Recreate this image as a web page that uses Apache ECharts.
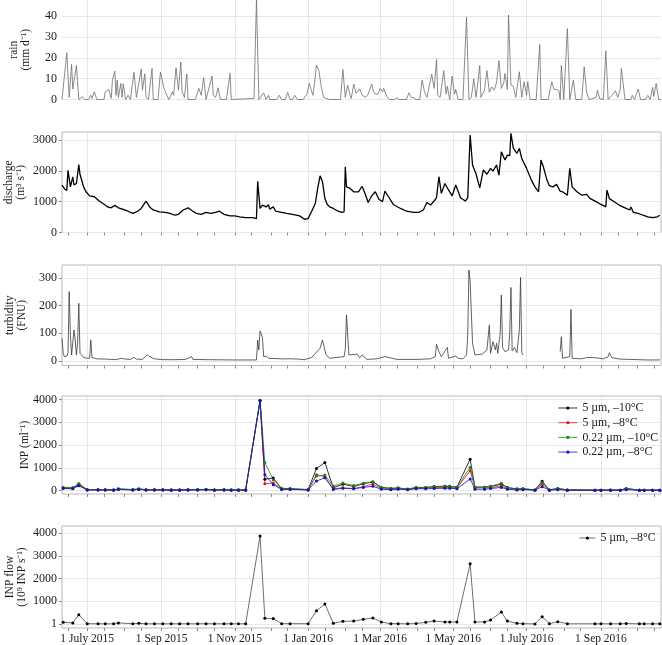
<!DOCTYPE html>
<html><head><meta charset="utf-8">
<script src="https://cdn.jsdelivr.net/npm/echarts@6/dist/echarts.min.js"></script>
<style>html,body{margin:0;padding:0;background:#fff}#c{width:662px;height:645px}</style>
</head><body><div id="c"></div><script>
// ---------------- DATA ----------------
const xStart = '2015-06-10', xEnd = '2016-10-21';
const gridDates = ['2015-07-01','2015-09-01','2015-11-01','2016-01-01','2016-03-01','2016-05-01','2016-07-01','2016-09-01'];
const gridLabels = ['1 July 2015','1 Sep 2015','1 Nov 2015','1 Jan 2016','1 Mar 2016','1 May 2016','1 July 2016','1 Sep 2016'];
const rainTicks = [0,10,20,30,40];
const dischargeTicks = [0,1000,2000,3000];
const turbidityTicks = [0,100,200,300];
const inpTicks = [0,1000,2000,3000,4000];
const flowTicks = [1,1000,2000,3000,4000];

const rain = [['2015-06-10',0],['2015-06-14',22.4],['2015-06-16',1],['2015-06-18',16.8],['2015-06-19',5],['2015-06-20',5.8],['2015-06-22',16.3],['2015-06-24',0],['2015-06-27',1.3],['2015-06-29',0],['2015-07-02',0],['2015-07-04',2],['2015-07-05',0.5],['2015-07-07',3.7],['2015-07-09',0],['2015-07-15',0],['2015-07-16',3.7],['2015-07-19',4.8],['2015-07-21',0.5],['2015-07-22',9.3],['2015-07-24',13.6],['2015-07-25',2],['2015-07-26',9.3],['2015-07-27',1],['2015-07-29',7.7],['2015-07-30',1],['2015-07-31',7.5],['2015-08-02',0],['2015-08-04',2],['2015-08-06',0],['2015-08-09',13],['2015-08-11',1],['2015-08-15',14.6],['2015-08-16',4.5],['2015-08-18',12.3],['2015-08-19',1],['2015-08-21',0],['2015-08-24',14.9],['2015-08-25',0],['2015-08-29',0],['2015-08-31',13.1],['2015-09-03',5.3],['2015-09-05',2.5],['2015-09-07',0],['2015-09-10',3.7],['2015-09-11',2],['2015-09-13',15.2],['2015-09-15',4.5],['2015-09-17',18],['2015-09-18',3.7],['2015-09-20',1],['2015-09-22',12.2],['2015-09-23',0],['2015-09-29',0],['2015-10-02',5.3],['2015-10-04',2],['2015-10-06',10.4],['2015-10-08',0],['2015-10-13',11.2],['2015-10-14',2],['2015-10-16',1],['2015-10-18',5.6],['2015-10-20',0],['2015-10-25',0],['2015-10-28',12.5],['2015-10-29',0],['2015-11-17',0.5],['2015-11-19',48],['2015-11-21',0],['2015-11-25',3.2],['2015-11-27',0],['2015-11-29',2],['2015-11-30',0],['2015-12-06',0],['2015-12-08',2],['2015-12-10',0],['2015-12-13',0],['2015-12-15',3.4],['2015-12-17',0],['2015-12-19',0],['2015-12-21',2],['2015-12-23',0],['2015-12-28',0],['2015-12-31',2.6],['2016-01-02',7.7],['2016-01-05',2],['2016-01-06',6],['2016-01-08',16.5],['2016-01-10',13.8],['2016-01-12',6],['2016-01-14',1],['2016-01-19',0],['2016-01-28',0],['2016-01-30',14.4],['2016-02-01',1],['2016-02-03',6.9],['2016-02-05',2],['2016-02-06',0.5],['2016-02-08',7.4],['2016-02-10',3],['2016-02-13',5.1],['2016-02-15',2],['2016-02-18',1],['2016-02-20',2.6],['2016-02-23',7.4],['2016-02-25',3],['2016-02-28',2.4],['2016-03-01',5.3],['2016-03-03',3.7],['2016-03-04',5.3],['2016-03-07',1],['2016-03-09',0],['2016-03-13',0],['2016-03-15',0.8],['2016-03-17',0],['2016-03-23',0],['2016-03-25',3.2],['2016-03-27',1],['2016-03-29',0.8],['2016-03-31',0],['2016-04-03',0],['2016-04-05',9.3],['2016-04-07',3.7],['2016-04-09',1],['2016-04-13',12.2],['2016-04-15',5.3],['2016-04-17',19.2],['2016-04-18',2],['2016-04-20',1],['2016-04-23',13.8],['2016-04-25',2.6],['2016-04-26',6.4],['2016-04-28',0],['2016-04-30',11.2],['2016-05-02',2.6],['2016-05-03',4.8],['2016-05-05',0],['2016-05-09',0],['2016-05-12',39.4],['2016-05-14',0],['2016-05-16',1],['2016-05-18',9.9],['2016-05-20',1],['2016-05-23',16.3],['2016-05-24',1],['2016-05-27',4.5],['2016-05-29',13.8],['2016-05-31',3.5],['2016-06-02',6],['2016-06-04',4.5],['2016-06-06',8],['2016-06-08',18.6],['2016-06-10',5.3],['2016-06-12',8],['2016-06-13',12.5],['2016-06-15',4.8],['2016-06-16',40.5],['2016-06-18',6.9],['2016-06-20',6.4],['2016-06-22',1],['2016-06-25',13.3],['2016-06-27',1],['2016-06-29',8.5],['2016-07-01',2],['2016-07-02',8.5],['2016-07-04',0],['2016-07-09',0],['2016-07-12',26.4],['2016-07-13',0],['2016-07-19',0],['2016-07-22',8.5],['2016-07-24',4.8],['2016-07-26',4.8],['2016-07-28',4.2],['2016-07-29',0],['2016-07-30',16.3],['2016-08-01',0],['2016-08-04',34],['2016-08-06',0],['2016-08-09',9.3],['2016-08-11',0],['2016-08-16',0],['2016-08-18',15.7],['2016-08-20',3.7],['2016-08-21',3.2],['2016-08-22',0],['2016-08-28',1],['2016-08-29',4.5],['2016-08-31',0.3],['2016-09-03',0],['2016-09-05',23.4],['2016-09-07',0],['2016-09-10',2],['2016-09-13',4.2],['2016-09-15',1],['2016-09-17',4.8],['2016-09-18',14.9],['2016-09-21',0],['2016-09-26',0],['2016-09-27',2],['2016-09-29',0],['2016-10-02',5.1],['2016-10-04',0],['2016-10-08',0],['2016-10-10',2],['2016-10-12',0],['2016-10-14',5.8],['2016-10-15',1.5],['2016-10-17',7.7],['2016-10-19',0],['2016-10-21',0]];

const discharge = [['2015-06-10',1540],['2015-06-11',1480],['2015-06-12',1420],['2015-06-13',1380],['2015-06-14',1360],['2015-06-15',2020],['2015-06-16',1750],['2015-06-17',1480],['2015-06-19',1800],['2015-06-20',1540],['2015-06-21',1560],['2015-06-22',1590],['2015-06-23',1650],['2015-06-24',2200],['2015-06-25',1880],['2015-06-26',1750],['2015-06-28',1480],['2015-06-30',1320],['2015-07-03',1190],['2015-07-07',1160],['2015-07-11',1020],['2015-07-16',890],['2015-07-18',830],['2015-07-21',800],['2015-07-24',880],['2015-07-27',800],['2015-07-31',750],['2015-08-04',690],['2015-08-08',620],['2015-08-12',690],['2015-08-15',780],['2015-08-19',1020],['2015-08-22',830],['2015-08-25',730],['2015-08-30',670],['2015-09-04',650],['2015-09-08',620],['2015-09-12',560],['2015-09-15',590],['2015-09-19',730],['2015-09-23',800],['2015-09-27',690],['2015-09-30',620],['2015-10-04',590],['2015-10-08',650],['2015-10-12',620],['2015-10-16',650],['2015-10-19',690],['2015-10-23',590],['2015-10-28',540],['2015-11-01',540],['2015-11-05',510],['2015-11-10',480],['2015-11-16',480],['2015-11-19',450],['2015-11-20',1660],['2015-11-22',780],['2015-11-24',890],['2015-11-27',830],['2015-11-29',900],['2015-11-30',760],['2015-12-03',830],['2015-12-05',690],['2015-12-10',650],['2015-12-14',620],['2015-12-19',590],['2015-12-25',540],['2015-12-29',430],['2016-01-01',450],['2016-01-04',690],['2016-01-05',650],['2016-01-07',940],['2016-01-09',1430],['2016-01-11',1840],['2016-01-13',1650],['2016-01-15',1100],['2016-01-17',910],['2016-01-19',830],['2016-01-22',780],['2016-01-26',690],['2016-01-29',650],['2016-01-31',670],['2016-02-01',2130],['2016-02-02',1480],['2016-02-05',1430],['2016-02-08',1320],['2016-02-09',1270],['2016-02-12',1320],['2016-02-15',1500],['2016-02-18',1210],['2016-02-20',975],['2016-02-23',1190],['2016-02-26',1320],['2016-02-29',1080],['2016-03-03',1000],['2016-03-05',1340],['2016-03-08',1160],['2016-03-12',910],['2016-03-18',780],['2016-03-23',690],['2016-03-29',650],['2016-04-02',650],['2016-04-06',730],['2016-04-09',975],['2016-04-12',890],['2016-04-15',1020],['2016-04-17',1130],['2016-04-19',1810],['2016-04-21',1270],['2016-04-24',1590],['2016-04-27',1380],['2016-04-30',1190],['2016-05-03',1540],['2016-05-07',1130],['2016-05-11',1020],['2016-05-13',1130],['2016-05-15',3160],['2016-05-17',2190],['2016-05-20',1890],['2016-05-23',1450],['2016-05-26',2030],['2016-05-29',1890],['2016-06-01',2080],['2016-06-03',1990],['2016-06-06',2190],['2016-06-08',1860],['2016-06-10',2620],['2016-06-13',2350],['2016-06-15',2510],['2016-06-17',2490],['2016-06-18',3220],['2016-06-20',2730],['2016-06-23',2570],['2016-06-25',2730],['2016-06-27',2400],['2016-07-01',2080],['2016-07-05',1700],['2016-07-08',1480],['2016-07-11',1320],['2016-07-13',2350],['2016-07-15',2130],['2016-07-18',1700],['2016-07-20',1520],['2016-07-23',1480],['2016-07-26',1560],['2016-07-29',1340],['2016-07-31',1320],['2016-08-04',1210],['2016-08-06',2080],['2016-08-08',1480],['2016-08-12',1320],['2016-08-16',1210],['2016-08-20',1235],['2016-08-23',1100],['2016-08-28',1000],['2016-09-01',910],['2016-09-05',830],['2016-09-06',1375],['2016-09-08',1100],['2016-09-13',975],['2016-09-17',870],['2016-09-21',800],['2016-09-25',730],['2016-09-26',830],['2016-09-28',650],['2016-10-02',620],['2016-10-06',560],['2016-10-10',510],['2016-10-14',480],['2016-10-18',510],['2016-10-20',560]];

const turbidity = [['2015-06-10',82],['2015-06-11',28],['2015-06-12',16],['2015-06-14',18],['2015-06-15',30],['2015-06-16',250],['2015-06-17',94],['2015-06-18',22],['2015-06-19',16],['2015-06-20',112],['2015-06-21',76],['2015-06-22',22],['2015-06-23',66],['2015-06-24',208],['2015-06-25',28],['2015-06-28',13],['2015-07-01',10],['2015-07-03',10],['2015-07-04',76],['2015-07-05',13],['2015-07-09',8],['2015-07-17',7],['2015-07-25',5],['2015-07-29',10],['2015-08-02',7],['2015-08-06',6],['2015-08-09',13],['2015-08-11',7],['2015-08-16',6],['2015-08-20',22],['2015-08-22',16],['2015-08-26',8],['2015-09-02',5],['2015-09-13',5],['2015-09-21',6],['2015-09-26',16],['2015-09-27',6],['2015-10-09',5],['2015-10-31',4],['2015-11-19',4],['2015-11-20',76],['2015-11-21',40],['2015-11-22',109],['2015-11-24',85],['2015-11-25',16],['2015-11-26',13],['2015-11-27',18],['2015-11-29',10],['2015-12-10',8],['2015-12-18',8],['2015-12-24',7],['2015-12-29',5],['2016-01-04',13],['2016-01-05',6],['2016-01-09',37],['2016-01-11',46],['2016-01-13',76],['2016-01-14',58],['2016-01-16',22],['2016-01-19',10],['2016-01-31',16],['2016-02-01',42],['2016-02-02',166],['2016-02-04',22],['2016-02-11',25],['2016-02-13',12],['2016-02-15',22],['2016-02-19',6],['2016-02-27',8],['2016-03-05',16],['2016-03-15',6],['2016-04-01',6],['2016-04-12',8],['2016-04-16',16],['2016-04-17',60],['2016-04-19',34],['2016-04-21',16],['2016-04-26',49],['2016-04-27',10],['2016-05-03',18],['2016-05-05',10],['2016-05-09',8],['2016-05-12',22],['2016-05-13',94],['2016-05-14',328],['2016-05-15',286],['2016-05-17',64],['2016-05-19',22],['2016-05-25',25],['2016-05-29',40],['2016-05-31',130],['2016-06-01',28],['2016-06-03',70],['2016-06-05',40],['2016-06-06',64],['2016-06-07',28],['2016-06-09',97],['2016-06-10',238],['2016-06-11',49],['2016-06-13',34],['2016-06-16',40],['2016-06-17',102],['2016-06-18',265],['2016-06-19',37],['2016-06-21',49],['2016-06-23',30],['2016-06-25',112],['2016-06-26',301],['2016-06-27',30],['2016-06-28',22],['2016-07-10',null],['2016-07-29',34],['2016-07-30',88],['2016-07-31',10],['2016-08-06',16],['2016-08-07',186],['2016-08-08',10],['2016-08-15',8],['2016-08-21',13],['2016-08-28',12],['2016-09-03',8],['2016-09-07',16],['2016-09-08',30],['2016-09-10',12],['2016-09-17',7],['2016-09-25',6],['2016-10-09',4],['2016-10-20',4]];

const sampleDates = ['2015-06-11','2015-06-19','2015-06-24','2015-07-01','2015-07-10','2015-07-16','2015-07-23','2015-07-27','2015-08-08','2015-08-13','2015-08-19','2015-08-26','2015-09-02','2015-09-09','2015-09-16','2015-09-23','2015-10-01','2015-10-08','2015-10-15','2015-10-23','2015-10-29','2015-11-04','2015-11-10','2015-11-22','2015-11-26','2015-12-03','2015-12-10','2015-12-17','2016-01-01','2016-01-08','2016-01-15','2016-01-22','2016-01-30','2016-02-08','2016-02-16','2016-02-24','2016-03-02','2016-03-10','2016-03-16','2016-03-24','2016-03-31','2016-04-08','2016-04-15','2016-04-24','2016-04-28','2016-05-04','2016-05-15','2016-05-19','2016-05-27','2016-06-01','2016-06-10','2016-06-15','2016-06-23','2016-06-28','2016-07-08','2016-07-14','2016-07-20','2016-07-27','2016-08-04','2016-08-27','2016-09-01','2016-09-09','2016-09-17','2016-09-22','2016-10-03','2016-10-07','2016-10-14','2016-10-20'];
const inp5m10 = [120,110,280,40,40,35,30,70,40,70, 35,35,35,30,30,35,40,50,30,40, 30,30,30,3950,500,550,80,80,40,970, 1230,120,280,180,300,380,140,90,110,60, 130,130,180,190,190,150,1380,150,150,180, 280,130,70,80,30,410,30,90,30,20, 20,25,20,90,20,20,20,20];
const inp5m8 = [110,100,230,30,30,30,25,55,30,55, 30,30,30,25,25,30,30,40,25,30, 25,25,25,3950,300,330,60,60,30,700, 600,80,120,90,170,290,90,60,80,50, 100,100,130,140,140,110,870,120,120,130, 200,90,50,60,20,280,20,70,20,15, 15,20,15,70,15,15,15,15];
const inp022m10 = [140,130,310,45,45,40,35,75,45,80, 40,40,40,35,35,40,45,55,35,45, 35,35,35,3950,1230,480,100,90,45,640, 680,200,330,220,320,390,150,100,120,70, 140,140,170,180,180,150,1010,150,150,190, 320,130,80,80,30,360,30,90,30,20, 20,25,20,90,20,20,20,20];
const inp022m8 = [90,80,210,25,25,25,20,50,25,50, 25,25,25,20,20,25,25,35,20,25, 20,20,20,3950,700,260,50,50,30,420, 560,50,100,80,140,190,60,40,60,40, 80,80,90,100,100,80,510,60,60,90, 140,60,30,40,20,170,20,40,20,15, 15,15,15,40,15,15,15,15];
const inpFlow = [75,50,410,15,10,10,10,50,10,30, 10,10,10,10,10,10,10,15,10,10, 10,10,10,3870,250,240,15,15,15,585, 880,30,118,130,205,265,88,15,15,10, 20,75,130,90,90,90,2650,90,90,176, 527,130,30,15,5,322,15,105,10,10, 10,10,10,20,10,10,10,10];
const eventLabels = [['2015-06-24',772,'0'],['2015-11-26',3886,'1'],['2016-01-15',1650,'2'],['2016-01-31',772,'3'],['2016-02-25',772,'4'],['2016-05-15',1740,'5'],['2016-06-10',772,'6'],['2016-07-15',772,'7']];
const inpNames = ['5 µm, –10°C','5 µm, –8°C','0.22 µm, –10°C','0.22 µm, –8°C'];
const flowName = '5 µm, –8°C';

// ---------------- BUILD ----------------
const ts = s => Date.parse(s + 'T00:00:00Z');
const FONT = 'Liberation Serif';
const TXT = '#1a1a1a';
const GRIDC = '#e6e6e6';
const FRAME = '#b9b9b9';
const gridTs = gridDates.map(ts);
const labelOf = {}; gridTs.forEach((t,i)=>labelOf[t]=gridLabels[i]);
const minorTs = [];
for (let y = 2015; y <= 2016; y++) for (let m = 1; m <= 12; m++) {
  const mm = String(m).padStart(2,'0');
  minorTs.push(ts(y+'-'+mm+'-01'), ts(y+'-'+mm+'-15'));
}
const panels = [
  {top:0,   height:99.5,  frame:false, min:0,    max:47.7, ticks:rainTicks,      name:'rain\n(mm d⁻¹)',          gap:30},
  {top:132, height:100.5, frame:true,  min:0,    max:3260, ticks:dischargeTicks, name:'discharge\n(m³ s⁻¹)',     gap:35},
  {top:265, height:100.5, frame:true,  min:-16,  max:346,  ticks:turbidityTicks, name:'turbidity\n(FNU)',        gap:34.5},
  {top:396, height:98,    frame:true,  min:-150, max:4150, ticks:inpTicks,       name:'INP (ml⁻¹)',              gap:31},
  {top:526, height:102,   frame:true,  min:-175, max:4310, ticks:flowTicks,      name:'INP flow\n(10⁹ INP s⁻¹)', gap:34}
];
const grid = [], xAxis = [], yAxis = [];
panels.forEach((p, i) => {
  grid.push({left:62, width:599, top:p.top, height:p.height, show:p.frame, borderColor:FRAME, borderWidth:1,
    backgroundColor:'rgba(0,0,0,0)', containLabel:false, outerBoundsMode:'none'});
  xAxis.push({type:'value', gridIndex:i, position:'bottom', min:ts(xStart), max:ts(xEnd),
    axisLine:{show:false}, axisTick:{show:false, customValues:gridTs},
    axisLabel:{show:i===4, customValues:gridTs, formatter:v=>labelOf[v]||'', fontFamily:FONT, fontSize:11.5, color:TXT, margin:5},
    splitLine:{show:true, lineStyle:{color:GRIDC, width:1}}});
  xAxis.push({type:'value', gridIndex:i, position:'bottom', min:ts(xStart), max:ts(xEnd),
    axisLine:{show:false}, axisTick:{show:i>0, customValues:minorTs, length:3, lineStyle:{color:'#8a8a8a', width:1}},
    axisLabel:{show:false}, splitLine:{show:false}});
  yAxis.push({type:'value', gridIndex:i, min:p.min, max:p.max,
    axisLine:{show:false}, axisTick:{show:i>0, customValues:p.ticks, length:3, lineStyle:{color:'#8a8a8a', width:1}},
    axisLabel:{customValues:p.ticks, formatter:v=>String(v), fontFamily:FONT, fontSize:12, color:TXT, margin:5},
    splitLine:{show:true, lineStyle:{color:GRIDC, width:1}},
    name:p.name, nameLocation:'middle', nameRotate:90, nameGap:p.gap, nameMoveOverlap:false,
    nameTextStyle:{fontFamily:FONT, fontSize:11.5, lineHeight:12, color:TXT}});
});
const pairs = arr => arr.map(p => [ts(p[0]), p[1] === null ? '-' : p[1]]);
const byDate = vals => sampleDates.map((d,i) => [ts(d), vals[i]]);
const lineBase = {type:'line', showSymbol:false, animation:false, silent:true};
const inpColors = ['#000000','#ee1111','#11881a','#1010cc'];
const inpVals = [inp5m10, inp5m8, inp022m10, inp022m8];
const series = [
  Object.assign({}, lineBase, {name:'rain', xAxisIndex:0, yAxisIndex:0, data:pairs(rain), lineStyle:{color:'#6e6e6e', width:0.8}}),
  Object.assign({}, lineBase, {name:'discharge', xAxisIndex:2, yAxisIndex:1, data:pairs(discharge), lineStyle:{color:'#000', width:1.3}}),
  Object.assign({}, lineBase, {name:'turbidity', xAxisIndex:4, yAxisIndex:2, data:pairs(turbidity), connectNulls:false, lineStyle:{color:'#3a3a3a', width:0.8}})
];
inpVals.forEach((v, k) => series.push({type:'line', name:inpNames[k], xAxisIndex:6, yAxisIndex:3, data:byDate(v),
  symbol:'circle', symbolSize:3, showSymbol:true, animation:false, silent:true,
  lineStyle:{color:inpColors[k], width:0.8}, itemStyle:{color:inpColors[k]}}));
series.push({type:'scatter', name:'events', xAxisIndex:6, yAxisIndex:3, symbolSize:1, itemStyle:{opacity:0}, animation:false, silent:true,
  data:eventLabels.map(e => ({value:[ts(e[0]), e[1]], label:{formatter:e[2]}})),
  label:{show:true, position:'inside', fontFamily:FONT, fontSize:12.5, color:TXT}});
series.push({type:'line', name:'flow', xAxisIndex:8, yAxisIndex:4, data:byDate(inpFlow),
  symbol:'circle', symbolSize:3, showSymbol:true, animation:false, silent:true,
  lineStyle:{color:'#4a4a4a', width:0.8}, itemStyle:{color:'#000'}});

const legendText = {fontFamily:FONT, fontSize:11.8, color:TXT, lineHeight:13};
const option = {
  animation:false,
  backgroundColor:'#fff',
  grid, xAxis, yAxis, series,
  legend:[
    {data:inpNames, orient:'vertical', left:558, top:401.5, padding:0, itemWidth:19, itemHeight:4, itemGap:1.7,
     selectedMode:false, textStyle:legendText, lineStyle:{width:0.8}},
    {data:['flow'], formatter:()=>flowName, orient:'vertical', left:579, top:531.5, padding:0, itemWidth:16, itemHeight:4,
     selectedMode:false, textStyle:legendText, lineStyle:{width:0.8}}
  ]
};
const chart = echarts.init(document.getElementById('c'), null, {renderer:'canvas'});
chart.setOption(option);
</script></body></html>
